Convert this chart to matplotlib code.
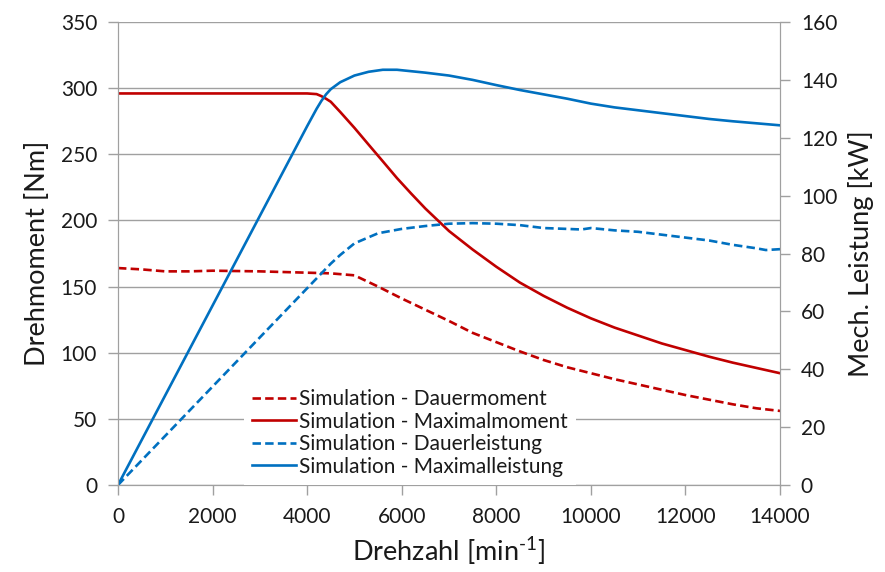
import numpy as np
from matplotlib import pyplot as plt

n_dm = [0, 500, 1000, 1500, 2000, 3000, 4000, 4500, 5000, 5500, 6000, 6500, 7000,
        7500, 8000, 8500, 9000, 9500, 10000, 10500, 11000, 11500, 12000, 12500,
        13000, 13500, 14000]
dauermoment = [164, 163, 161.5, 161.5, 162, 161.5, 160.5, 160, 158.5, 150, 141,
               132.5, 124, 115, 108, 101, 94.5, 89, 84.5, 80, 76, 72, 68, 64.5,
               61, 58, 56]

n_mm = [0, 4000, 4200, 4300, 4400, 4500, 4700, 5000, 5300, 5600, 5900, 6200, 6500,
        7000, 7500, 8000, 8500, 9000, 9500, 10000, 10500, 11000, 11500, 12000,
        12500, 13000, 13500, 14000]
maximalmoment = [296, 296, 295.5, 294, 292, 289.7, 282, 270, 257.3, 244.7, 232,
                 220.3, 209, 192, 178, 165, 153, 143, 134, 126, 119, 113, 107,
                 102, 97, 92.5, 88.5, 84.5]

n_dl = [0, 2000, 4000, 4500, 4700, 5000, 5500, 6000, 6500, 7000, 7500, 8000, 8500,
        9000, 9500, 9800, 10000, 10500, 11000, 11500, 12000, 12500, 13000, 13500,
        13700, 14000]
dauerleistung = [0, 34, 68, 76.5, 79.5, 83.5, 87, 88.5, 89.5, 90.3, 90.5, 90.3,
                 89.8, 88.8, 88.5, 88.3, 88.8, 88, 87.5, 86.5, 85.5, 84.5, 83,
                 81.8, 81.2, 81.5]

n_ml = [0, 4000, 4200, 4300, 4400, 4500, 4700, 5000, 5300, 5600, 5900, 6200, 6500,
        7000, 7500, 8000, 8500, 9000, 9500, 10000, 10500, 11000, 11500, 12000,
        12500, 13000, 13500, 14000]
maximalleistung = [0, 124, 130, 132.7, 135, 136.8, 139.2, 141.5, 142.8, 143.5,
                   143.5, 143, 142.5, 141.5, 140, 138.2, 136.5, 135, 133.5, 131.8,
                   130.5, 129.5, 128.5, 127.5, 126.5, 125.7, 125, 124.3]

plt.rcParams['font.family'] = ['Lato', 'DejaVu Sans']
plt.rcParams['mathtext.fontset'] = 'custom'
plt.rcParams['mathtext.rm'] = 'Lato'
plt.rcParams['mathtext.it'] = 'Lato'

rot = '#C00000'
blau = '#0070C0'
grau = '#A0A0A0'
text = '#1a1a1a'
dash = (0, (3.2, 1.6))

fig = plt.figure(figsize=(8.85, 5.72), dpi=100)
ax = fig.add_axes([0.1333, 0.1521, 0.7481, 0.8094])
ax2 = ax.twinx()

l1, = ax.plot(n_dm, dauermoment, color=rot, lw=1.9, ls=dash,
              label='Simulation - Dauermoment')
l2, = ax.plot(n_mm, maximalmoment, color=rot, lw=1.9,
              label='Simulation - Maximalmoment')
l3, = ax2.plot(n_dl, dauerleistung, color=blau, lw=1.9, ls=dash,
               label='Simulation - Dauerleistung')
l4, = ax2.plot(n_ml, maximalleistung, color=blau, lw=1.9,
               label='Simulation - Maximalleistung')

ax.set_xlim(0, 14000)
ax.set_ylim(0, 350)
ax2.set_ylim(0, 160)
ax.set_xticks(np.arange(0, 14001, 2000))
ax.set_yticks(np.arange(0, 351, 50))
ax2.set_yticks(np.arange(0, 161, 20))

ax.yaxis.grid(True, color=grau, lw=1)
ax.set_axisbelow(True)
for a in (ax, ax2):
    a.spines['top'].set_visible(False)
    for s in ('left', 'right', 'bottom'):
        a.spines[s].set_color(grau)
    a.tick_params(colors=grau, labelcolor=text, labelsize=15,
                  length=7, width=1)
ax.tick_params(axis='y', pad=8)
ax2.tick_params(axis='y', pad=8)
ax.tick_params(axis='x', pad=9)

ax.set_xlabel('Drehzahl [min$^{\\text{-1}}$]', fontsize=19.5, color=text,
              labelpad=6)
ax.set_ylabel('Drehmoment [Nm]', fontsize=19.5, color=text, labelpad=8)
ax2.set_ylabel('Mech. Leistung [kW]', fontsize=19.5, color=text, labelpad=8)

ax2.set_zorder(ax.get_zorder() + 1)
leg = ax2.legend(handles=[l1, l2, l3, l4], loc='lower left',
                 bbox_to_anchor=(0.19, 0.0), fontsize=15, frameon=True,
                 facecolor='white', edgecolor='none', framealpha=1,
                 handlelength=2.1, handletextpad=0.15, labelspacing=0.12,
                 borderpad=0.4, borderaxespad=0.0, fancybox=False)
for t in leg.get_texts():
    t.set_color(text)

fig.savefig('out.png', dpi=100)
